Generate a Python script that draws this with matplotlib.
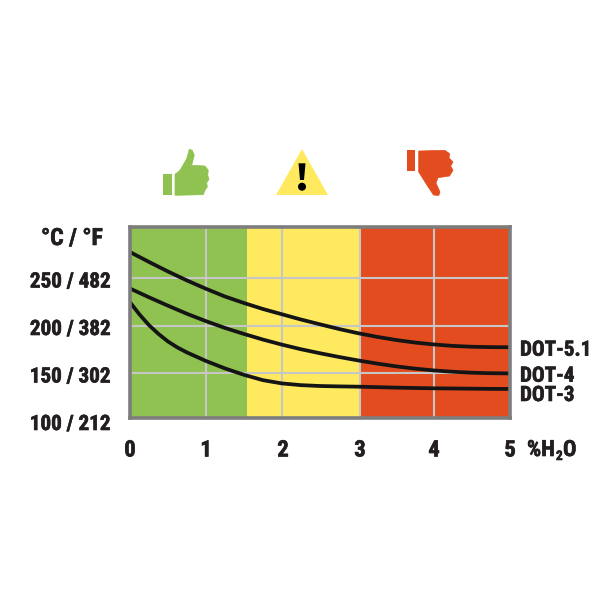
import matplotlib
matplotlib.use("Agg")
import matplotlib.pyplot as plt
import matplotlib.patheffects as pe
from matplotlib.patches import Polygon, Rectangle, Circle

water = [0, 0.25, 0.5, 0.75, 1, 1.25, 1.5, 1.75, 2, 2.25, 2.5, 2.75, 3, 3.25, 3.5, 3.75, 4, 4.25, 4.5, 4.75, 5]
water3 = [0, 0.125, 0.25, 0.375, 0.5, 0.625, 0.75, 1, 1.25, 1.5, 1.75, 2, 2.25, 2.5, 2.75, 3, 3.25, 3.5, 3.75, 4, 4.25, 4.5, 4.75, 5]
dot51 = [277.2, 266.8, 256.8, 247.4, 238.7, 230.6, 223.8, 217.5, 212.0, 206.5, 201.5, 196.6, 192.2, 188.4, 185.1, 182.4, 180.4, 178.9, 178.0, 177.6, 177.5]
dot4 = [239.0, 229.8, 221.0, 212.5, 204.8, 197.7, 191.4, 185.5, 180.2, 175.4, 171.2, 167.3, 163.7, 160.4, 157.5, 155.1, 153.2, 151.8, 150.8, 150.3, 150.1]
dot3 = [224.6, 211.8, 200.6, 191.4, 183.5, 177.2, 172.0, 163.1, 155.3, 148.6, 143.0, 139.6, 137.8, 136.9, 136.5, 136.2, 135.7, 135.2, 134.8, 134.5, 134.3, 134.1, 133.9, 133.8]
y_ticks = [150, 200, 250]
y_labels = ["100 / 212", "150 / 302", "200 / 382", "250 / 482"]
x_ticks = [0, 1, 2, 3, 4, 5]
GREEN, YELLOW, RED = "#8fc250", "#ffe95f", "#e34c1f"
FONT = ["Roboto Condensed", "Liberation Sans"]
plt.rcParams["font.family"] = FONT

fig = plt.figure(figsize=(6.16, 6.16), dpi=100)
W = H = 616
L, R, T, B = 130, 510, 227, 418
ax = fig.add_axes([L / W, 1 - B / H, (R - L) / W, (B - T) / H])
ax.set_xlim(0, 5)
ax.set_ylim(103.4, 303.4)
ax.axvspan(0, 1.535, color=GREEN, lw=0, zorder=0)
ax.axvspan(1.535, 3.03, color=YELLOW, lw=0, zorder=0)
ax.axvspan(3.03, 5, color=RED, lw=0, zorder=0)
for v in [1, 2, 3.03, 4]:
    ax.axvline(v, color="#c6c6c6", lw=1.5, zorder=1)
for v in y_ticks:
    ax.axhline(v, color="#c6c6c6", lw=1.5, zorder=1)
for name, xs, ys in [("DOT-5.1", water, dot51), ("DOT-4", water, dot4), ("DOT-3", water3, dot3)]:
    ax.plot(xs, ys, color="#141414", lw=2.7, zorder=2, solid_capstyle="butt", solid_joinstyle="round", label=name)
for s in ax.spines.values():
    s.set_color("#7d7d7d")
    s.set_linewidth(2.6)
ax.set_xticks([])
ax.set_yticks([])

# overlay in pixel coordinates for text and icons
ov = fig.add_axes([0, 0, 1, 1], facecolor="none")
ov.set_xlim(0, W)
ov.set_ylim(H, 0)
ov.axis("off")
heavy = [pe.withStroke(linewidth=0.45, foreground="#231f20")]
txt = dict(fontweight="bold", color="#231f20", va="baseline", path_effects=heavy)
for lab, py in zip(y_labels, [430, 382.5, 335, 287.5]):
    ov.text(111, py, lab, ha="right", fontsize=15.2, **txt)
ov.text(103, 245, "°C / °F", ha="right", fontsize=17, **txt)
for t, px in zip(x_ticks, [130, 206, 283, 360, 434, 510]):
    ov.text(px, 456.5, str(t), ha="center", fontsize=16.3, **txt)
ov.text(527, 456, "%H", ha="left", fontsize=16, **txt)
ov.text(556, 460, "2", ha="left", fontsize=9.5, **txt)
ov.text(563, 456, "O", ha="left", fontsize=16, **txt)
for lab, py in [("DOT-5.1", 355.7), ("DOT-4", 381.7), ("DOT-3", 401)]:
    ov.text(520, py, lab, ha="left", fontsize=15.2, **txt)

# icons
thumb_up = [(175, 174.3), (180, 170.3), (186.7, 158.7), (189.3, 149.3), (192.3, 150.3), (194.3, 155.3), (191.7, 165.3),
            (205, 166), (208.3, 170.3), (207.7, 175.3), (209, 179.3), (206.7, 182.7), (207.3, 187), (205, 190.3), (203.3, 194.7), (175, 195.3)]
thumb_down = [(418.7, 151), (444.7, 150.3), (449.7, 153.7), (449, 157.7), (453, 162), (450.7, 166), (453, 170.3), (449.5, 176),
              (438, 177.7), (436, 183), (440, 192), (438.7, 195.5), (433.5, 195), (428, 186.7), (418.7, 172)]
ov.add_patch(Rectangle((163, 173.7), 8.7, 21, color=GREEN, lw=0))
ov.add_patch(Polygon(thumb_up, closed=True, color=GREEN, lw=0.5, joinstyle="round"))
ov.add_patch(Rectangle((407.3, 150.3), 8, 21, color=RED, lw=0))
ov.add_patch(Polygon(thumb_down, closed=True, color=RED, lw=0.5, joinstyle="round"))
ov.add_patch(Polygon([(302, 149), (276, 195), (328, 195)], closed=True, color=YELLOW, lw=0))
ov.add_patch(Polygon([(298.5, 163.3), (305.5, 163.3), (304, 180), (300, 180)], closed=True, color="#000000", lw=0))
ov.add_patch(Circle((302, 186.7), 4, color="#000000", lw=0))
fig.savefig("out.png", dpi=100, facecolor="white")
